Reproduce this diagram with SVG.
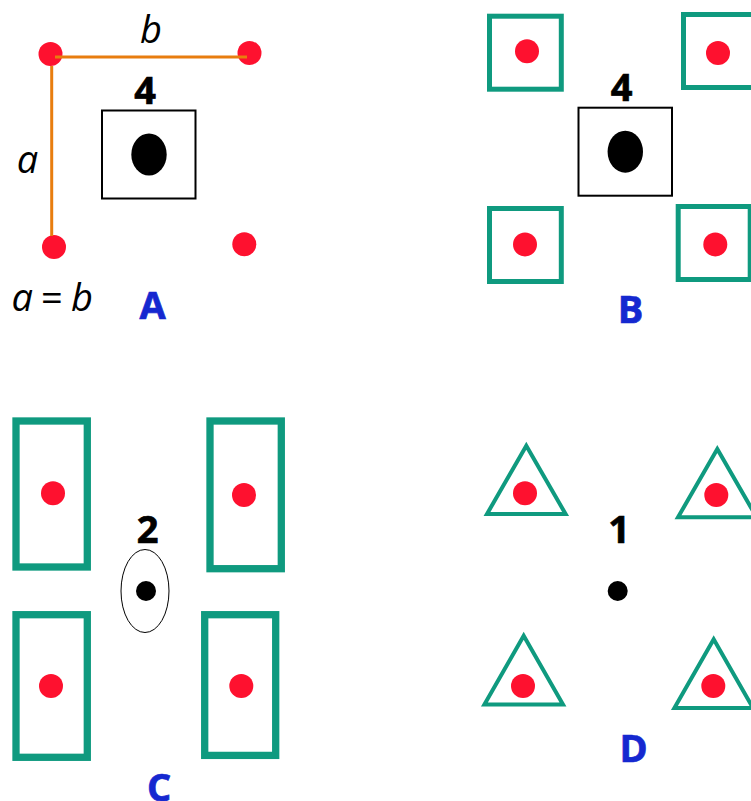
<svg xmlns="http://www.w3.org/2000/svg" width="751" height="801" viewBox="0 0 751 801">
<style>
.r{fill:#fe112f}
.k{fill:#000}
.s{fill:none;stroke:#000;stroke-width:2}
.g{fill:none;stroke:#0f9a7f;stroke-width:5}
.w{fill:none;stroke:#0f9a7f;stroke-width:7.3}
.t{fill:none;stroke:#0f9a7f;stroke-width:4}
.n{font:700 38px "Open Sans","DejaVu Sans",sans-serif;fill:#000;stroke:#000;stroke-width:.7;text-anchor:middle}
.l{font:700 38px "Open Sans","DejaVu Sans",sans-serif;fill:#1528d0;stroke:#1528d0;stroke-width:.7;text-anchor:middle}
.i{font:italic 400 38px "Open Sans","DejaVu Sans",sans-serif;fill:#000}
</style>
<rect width="751" height="801" fill="#fff"/>
<g id="panel-a">
<circle class="r" cx="50.500" cy="54" r="12"/><circle class="r" cx="249.500" cy="53" r="12"/><circle class="r" cx="54" cy="247" r="12"/><circle class="r" cx="244.300" cy="244.300" r="12"/>
<rect class="s" x="102" y="110.500" width="93.500" height="88"/><ellipse class="k" cx="149" cy="154.500" rx="17.700" ry="21"/>
<text class="n" x="145" y="104">4</text><text class="l" x="152.500" y="319">A</text>
<text class="i" x="151" y="43" text-anchor="middle">b</text><text class="i" x="27.500" y="173" text-anchor="middle">a</text>
<text class="i" x="11.500" y="311">a</text><text class="i" x="41" y="311" style="font-style:normal">=</text><text class="i" x="71" y="311">b</text>
</g>
<g id="connectors" fill="none" stroke="#e87d0e" stroke-width="3">
<path d="M55 57H247"/><path d="M51.700 66V236"/>
</g>
<g id="panel-b">
<rect class="g" x="489.500" y="16.200" width="71.800" height="73"/><rect class="g" x="683.500" y="14.500" width="72" height="73"/><rect class="g" x="489.500" y="208.500" width="71.800" height="73"/><rect class="g" x="678.200" y="206.500" width="72" height="73"/>
<circle class="r" cx="527" cy="51.300" r="12"/><circle class="r" cx="718" cy="53" r="12"/><circle class="r" cx="525" cy="244.500" r="12"/><circle class="r" cx="715.300" cy="244.500" r="12"/>
<rect class="s" x="578.500" y="107.700" width="93.500" height="88"/><ellipse class="k" cx="625.300" cy="151.700" rx="17.700" ry="21"/>
<text class="n" x="621.500" y="101">4</text><text class="l" x="630.500" y="323">B</text>
</g>
<g id="panel-c">
<rect class="w" x="16" y="421" width="71.300" height="146"/><rect class="w" x="210" y="421" width="71.300" height="147.700"/><rect class="w" x="16" y="614.700" width="71.300" height="142.600"/><rect class="w" x="204.700" y="614.700" width="71" height="140.700"/>
<circle class="r" cx="53" cy="493.300" r="12"/><circle class="r" cx="244" cy="495" r="12"/><circle class="r" cx="51" cy="686" r="12"/><circle class="r" cx="241.300" cy="686" r="12"/>
<ellipse cx="145" cy="591" rx="24" ry="41.500" fill="none" stroke="#000" stroke-width="1"/><circle class="k" cx="146" cy="591" r="10"/>
<text class="n" x="147.500" y="543">2</text><text class="l" x="159" y="801">C</text>
</g>
<g id="panel-d">
<polygon class="t" points="526.300,445.700 487,514 565.600,514"/><polygon class="t" points="717.300,449 678,517.300 756.600,517.300"/><polygon class="t" points="523.700,635.700 484.400,704.500 563,704.500"/><polygon class="t" points="713.700,639.300 674.400,708 753,708"/>
<circle class="r" cx="525" cy="493.300" r="12"/><circle class="r" cx="716.300" cy="495" r="12"/><circle class="r" cx="523" cy="686" r="12"/><circle class="r" cx="713.300" cy="686" r="12"/>
<circle class="k" cx="617.700" cy="591" r="10"/>
<text class="n" x="619" y="543">1</text><text class="l" x="633.500" y="761.500">D</text>
</g>
</svg>
